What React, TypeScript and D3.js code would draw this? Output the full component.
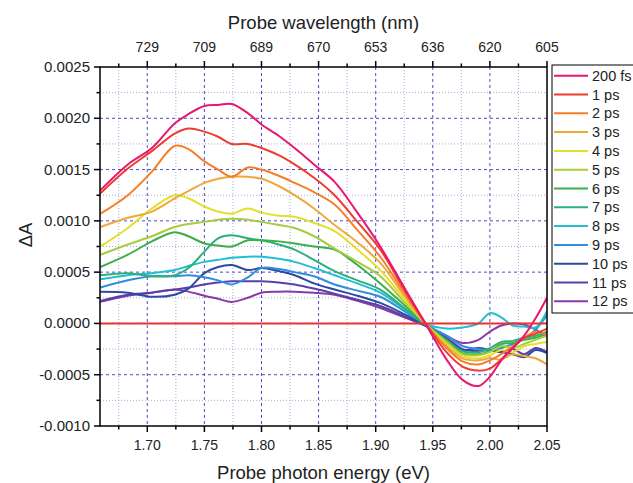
import React from "react";
import * as d3 from "d3";

const energies = [1.659, 1.683, 1.704, 1.724, 1.736, 1.750, 1.762, 1.774, 1.788, 1.800, 1.815, 1.829, 1.846, 1.864, 1.884, 1.904, 1.925, 1.945, 1.962, 1.976, 1.990, 2.000, 2.010, 2.020, 2.030, 2.040, 2.050];

const labels = ["200 fs", "1 ps", "2 ps", "3 ps", "4 ps", "5 ps", "6 ps", "7 ps", "8 ps", "9 ps", "10 ps", "11 ps", "12 ps"];
const colors = ["#e8176f", "#ee3b30", "#f47f28", "#f0a83a", "#e4df2c", "#a6cd3c", "#3cae4a", "#2bb07a", "#22bfd0", "#2f8fdc", "#2c4aa0", "#5b3fa8", "#8a3aa8"];

const s200fs = [0.00130, 0.00155, 0.00171, 0.00195, 0.00204, 0.00212, 0.00213, 0.00214, 0.00205, 0.00194, 0.00183, 0.00171, 0.00155, 0.00138, 0.00108, 0.00075, 0.00035, -0.00003, -0.00035, -0.00055, -0.00061, -0.00052, -0.00036, -0.00024, -0.00012, 0.00005, 0.00025];
const s1ps = [0.00127, 0.00151, 0.00168, 0.00185, 0.00190, 0.00187, 0.00182, 0.00175, 0.00175, 0.00171, 0.00164, 0.00155, 0.00142, 0.00125, 0.00099, 0.00072, 0.00033, -0.00002, -0.00028, -0.00042, -0.00046, -0.00044, -0.00035, -0.00024, -0.00014, -0.00010, -0.00005];
const s2ps = [0.00107, 0.00125, 0.00148, 0.00173, 0.00170, 0.00158, 0.00150, 0.00143, 0.00152, 0.00150, 0.00144, 0.00137, 0.00128, 0.00116, 0.00091, 0.00065, 0.00030, -0.00002, -0.00024, -0.00037, -0.00040, -0.00036, -0.00030, -0.00022, -0.00014, -0.00008, -0.00012];
const s3ps = [0.00094, 0.00103, 0.00109, 0.00122, 0.00129, 0.00137, 0.00141, 0.00143, 0.00143, 0.00141, 0.00134, 0.00125, 0.00112, 0.00096, 0.00079, 0.00059, 0.00027, -0.00002, -0.00022, -0.00034, -0.00036, -0.00034, -0.00035, -0.00030, -0.00032, -0.00034, -0.00040];
const s4ps = [0.00075, 0.00093, 0.00112, 0.00125, 0.00122, 0.00114, 0.00109, 0.00107, 0.00112, 0.00108, 0.00105, 0.00104, 0.00098, 0.00090, 0.00072, 0.00052, 0.00024, -0.00002, -0.00020, -0.00032, -0.00034, -0.00031, -0.00026, -0.00028, -0.00022, -0.00020, -0.00018];
const s5ps = [0.00067, 0.00077, 0.00085, 0.00094, 0.00097, 0.00099, 0.00101, 0.00102, 0.00101, 0.00099, 0.00096, 0.00093, 0.00085, 0.00073, 0.00060, 0.00046, 0.00021, -0.00002, -0.00018, -0.00030, -0.00031, -0.00028, -0.00022, -0.00024, -0.00020, -0.00016, -0.00012];
const s6ps = [0.00055, 0.00067, 0.00080, 0.00089, 0.00085, 0.00078, 0.00076, 0.00075, 0.00081, 0.00081, 0.00080, 0.00078, 0.00075, 0.00072, 0.00057, 0.00039, 0.00018, -0.00002, -0.00017, -0.00029, -0.00030, -0.00027, -0.00020, -0.00019, -0.00016, -0.00014, -0.00010];
const s7ps = [0.00047, 0.00049, 0.00046, 0.00047, 0.00054, 0.00070, 0.00083, 0.00086, 0.00083, 0.00081, 0.00077, 0.00072, 0.00062, 0.00051, 0.00042, 0.00033, 0.00015, -0.00002, -0.00016, -0.00027, -0.00028, -0.00024, -0.00018, -0.00017, -0.00014, -0.00012, -0.00008];
const s8ps = [0.00043, 0.00047, 0.00049, 0.00052, 0.00056, 0.00060, 0.00062, 0.00064, 0.00065, 0.00065, 0.00063, 0.00060, 0.00054, 0.00047, 0.00039, 0.00030, 0.00014, -0.00001, -0.00005, -0.00004, 0.00000, 0.00010, 0.00006, -0.00002, -0.00003, -0.00004, 0.00012];
const s9ps = [0.00035, 0.00042, 0.00046, 0.00046, 0.00047, 0.00045, 0.00042, 0.00038, 0.00045, 0.00054, 0.00053, 0.00050, 0.00046, 0.00038, 0.00032, 0.00026, 0.00012, -0.00002, -0.00012, -0.00022, -0.00025, -0.00026, -0.00024, -0.00020, -0.00015, -0.00006, 0.00008];
const s10ps = [0.00031, 0.00030, 0.00026, 0.00028, 0.00034, 0.00049, 0.00055, 0.00057, 0.00052, 0.00054, 0.00051, 0.00047, 0.00039, 0.00033, 0.00027, 0.00020, 0.00009, -0.00003, -0.00015, -0.00026, -0.00024, -0.00026, -0.00028, -0.00030, -0.00033, -0.00026, -0.00029];
const s11ps = [0.00022, 0.00028, 0.00030, 0.00033, 0.00035, 0.00038, 0.00040, 0.00041, 0.00041, 0.00041, 0.00040, 0.00038, 0.00034, 0.00029, 0.00023, 0.00017, 0.00007, -0.00003, -0.00014, -0.00025, -0.00027, -0.00026, -0.00028, -0.00025, -0.00030, -0.00024, -0.00028];
const s12ps = [0.00021, 0.00027, 0.00030, 0.00033, 0.00031, 0.00027, 0.00024, 0.00021, 0.00025, 0.00030, 0.00031, 0.00031, 0.00030, 0.00028, 0.00022, 0.00015, 0.00006, -0.00003, -0.00012, -0.00019, -0.00016, -0.00008, -0.00002, 0.00000, -0.00001, -0.00006, -0.00013];

const seriesValues = [s200fs, s1ps, s2ps, s3ps, s4ps, s5ps, s6ps, s7ps, s8ps, s9ps, s10ps, s11ps, s12ps];

const xMajorTicks = [1.70, 1.75, 1.80, 1.85, 1.90, 1.95, 2.00, 2.05];
const xMinorTicks = [1.675, 1.725, 1.775, 1.825, 1.875, 1.925, 1.975, 2.025];
const topLabels = ["729", "709", "689", "670", "653", "636", "620", "605"];
const yMajorTicks = [-0.001, -0.0005, 0, 0.0005, 0.001, 0.0015, 0.002, 0.0025];
const yMinorTicks = [-0.00075, -0.00025, 0.00025, 0.00075, 0.00125, 0.00175, 0.00225];

const W = 633, H = 483;
const L = 100, R = 547, T = 67, B = 426;
const FONT = "'Liberation Sans', Arial, sans-serif";

export default function App() {
  const x = d3.scaleLinear().domain([1.6586, 2.05]).range([L, R]);
  const y = d3.scaleLinear().domain([-0.001, 0.0025]).range([B, T]);
  const line = d3
    .line<number>()
    .x((_, i) => x(energies[i]))
    .y((v) => y(v))
    .curve(d3.curveCatmullRom.alpha(0.5));

  const order = seriesValues.map((_, i) => i).reverse();

  return (
    <svg width={W} height={H} style={{ position: "absolute", left: 0, top: 0, background: "#fff" }} fontFamily={FONT}>
      <defs>
        <clipPath id="plot">
          <rect x={L} y={T} width={R - L} height={B - T} />
        </clipPath>
      </defs>
      <rect x={0} y={0} width={W} height={H} fill="#fff" />
      {xMinorTicks.map((t) => (
        <line key={"xm" + t} x1={x(t)} x2={x(t)} y1={T} y2={B} stroke="#a8a8e4" strokeWidth={1} strokeDasharray="1,2" />
      ))}
      {yMinorTicks.map((t) => (
        <line key={"ym" + t} x1={L} x2={R} y1={y(t)} y2={y(t)} stroke="#a8a8e4" strokeWidth={1} strokeDasharray="1,2" />
      ))}
      {xMajorTicks.slice(0, -1).map((t) => (
        <line key={"xg" + t} x1={x(t)} x2={x(t)} y1={T} y2={B} stroke="#4b4bc8" strokeWidth={1} strokeDasharray="3,3" />
      ))}
      {yMajorTicks.slice(1, -1).map((t) => (
        <line key={"yg" + t} x1={L} x2={R} y1={y(t)} y2={y(t)} stroke="#4b4bc8" strokeWidth={1} strokeDasharray="3,3" />
      ))}
      <g clipPath="url(#plot)">
        {order.map((i) => (
          <path key={labels[i]} d={line(seriesValues[i]) || ""} fill="none" stroke={colors[i]} strokeWidth={2} />
        ))}
        <line x1={L} x2={R} y1={y(0)} y2={y(0)} stroke="#ee3030" strokeWidth={2} />
      </g>
      <rect x={L} y={T} width={R - L} height={B - T} fill="none" stroke="#000" strokeWidth={1.5} />
      {xMajorTicks.map((t) => (
        <g key={"bx" + t}>
          <line x1={x(t)} x2={x(t)} y1={B} y2={B + 6} stroke="#000" strokeWidth={1.5} />
          <text x={x(t)} y={B + 24} textAnchor="middle" fontSize={14} fill="#222">{t.toFixed(2)}</text>
        </g>
      ))}
      {xMinorTicks.map((t) => (
        <line key={"bxm" + t} x1={x(t)} x2={x(t)} y1={B} y2={B + 3.5} stroke="#000" strokeWidth={1.5} />
      ))}
      {xMajorTicks.map((t, i) => (
        <g key={"tx" + t}>
          <line x1={x(t)} x2={x(t)} y1={T} y2={T - 6} stroke="#000" strokeWidth={1.5} />
          <text x={x(t)} y={T - 15} textAnchor="middle" fontSize={14} fill="#222">{topLabels[i]}</text>
        </g>
      ))}
      {xMinorTicks.map((t) => (
        <line key={"txm" + t} x1={x(t)} x2={x(t)} y1={T} y2={T - 3.5} stroke="#000" strokeWidth={1.5} />
      ))}
      {yMajorTicks.map((t) => (
        <g key={"ly" + t}>
          <line x1={L} x2={L - 6} y1={y(t)} y2={y(t)} stroke="#000" strokeWidth={1.5} />
          <text x={L - 10} y={y(t) + 5} textAnchor="end" fontSize={15} fill="#222">{t.toFixed(4)}</text>
        </g>
      ))}
      {yMinorTicks.map((t) => (
        <line key={"lym" + t} x1={L} x2={L - 3.5} y1={y(t)} y2={y(t)} stroke="#000" strokeWidth={1.5} />
      ))}
      <text x={(L + R) / 2} y={29} textAnchor="middle" fontSize={18.5} fill="#222">Probe wavelength (nm)</text>
      <text x={(L + R) / 2} y={479} textAnchor="middle" fontSize={18.5} fill="#222">Probe photon energy (eV)</text>
      <text transform={`translate(32,${235}) rotate(-90)`} textAnchor="middle" fontSize={18.5} fill="#222">ΔA</text>
      <rect x={552} y={65} width={100} height={248} fill="#fff" stroke="#000" strokeWidth={1} />
      {labels.map((lab, i) => {
        const ly = 75.7 + i * 18.8;
        return (
          <g key={"lg" + lab}>
            <line x1={554} x2={588} y1={ly} y2={ly} stroke={colors[i]} strokeWidth={2} />
            <text x={592} y={ly + 5} fontSize={14.5} fill="#222">{lab}</text>
          </g>
        );
      })}
    </svg>
  );
}
